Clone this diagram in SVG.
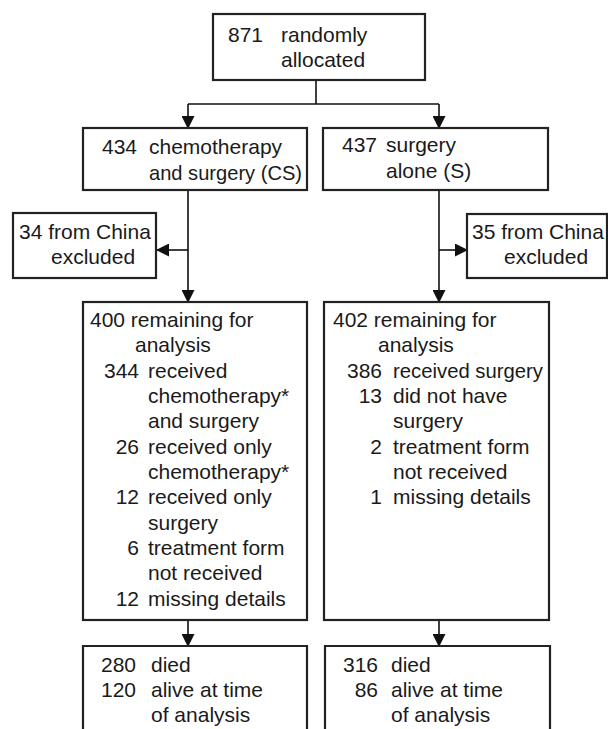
<svg xmlns="http://www.w3.org/2000/svg" width="608" height="729" viewBox="0 0 608 729">
<defs>
<marker id="ah" markerUnits="userSpaceOnUse" markerWidth="13" markerHeight="13" viewBox="0 0 13 13" refX="12" refY="6.5" orient="auto">
<path d="M0,0 L13,6.5 L0,13 Z" fill="#111"/>
</marker>
</defs>
<style>
.box{fill:#fff;stroke:#222;stroke-width:2.2}
.t{font-family:"Liberation Sans",Arial,sans-serif;font-size:21px;fill:#1a1a1a}
.n{text-anchor:end}
.c{fill:none;stroke:#111;stroke-width:1.6}
</style>
<rect width="608" height="729" fill="#fff"/>
<g id="connectors">
<line class="c" x1="316" y1="80" x2="316" y2="104"/>
<line class="c" x1="188" y1="104" x2="439" y2="104"/>
<line class="c" x1="188" y1="104" x2="188" y2="128" marker-end="url(#ah)"/>
<line class="c" x1="439" y1="104" x2="439" y2="128" marker-end="url(#ah)"/>
<line class="c" x1="188" y1="190" x2="188" y2="302" marker-end="url(#ah)"/>
<line class="c" x1="439" y1="190" x2="439" y2="302" marker-end="url(#ah)"/>
<line class="c" x1="188" y1="250" x2="157" y2="250" marker-end="url(#ah)"/>
<line class="c" x1="439" y1="250" x2="467" y2="250" marker-end="url(#ah)"/>
<line class="c" x1="188" y1="620" x2="188" y2="646" marker-end="url(#ah)"/>
<line class="c" x1="439" y1="620" x2="439" y2="646" marker-end="url(#ah)"/>
</g>
<g id="randomised">
<rect class="box" x="213" y="14" width="212" height="66"/>
<text class="t" x="228" y="42">871</text>
<text class="t" x="281" y="42">randomly</text>
<text class="t" x="281" y="67">allocated</text>
</g>
<g id="cs">
<rect class="box" x="83" y="128" width="224" height="62"/>
<text class="t" x="102" y="154">434</text>
<text class="t" x="149" y="154">chemotherapy</text>
<text class="t" x="149" y="180" textLength="153" lengthAdjust="spacingAndGlyphs">and surgery (CS)</text>
</g>
<g id="s">
<rect class="box" x="323" y="128" width="225" height="62"/>
<text class="t" x="342" y="152">437</text>
<text class="t" x="386" y="152">surgery</text>
<text class="t" x="386" y="178">alone (S)</text>
</g>
<g id="cs-excluded">
<rect class="box" x="13" y="213" width="143" height="65"/>
<text class="t" x="19" y="239">34 from China</text>
<text class="t" x="51" y="264">excluded</text>
</g>
<g id="s-excluded">
<rect class="box" x="467" y="214" width="140" height="64"/>
<text class="t" x="472" y="239">35 from China</text>
<text class="t" x="504" y="264">excluded</text>
</g>
<g id="cs-analysis">
<rect class="box" x="83" y="302" width="224" height="318"/>
<text class="t" x="90" y="327">400 remaining for</text>
<text class="t" x="135" y="352">analysis</text>
<text class="t n" x="139" y="378">344</text>
<text class="t" x="148" y="378">received</text>
<text class="t" x="148" y="403">chemotherapy*</text>
<text class="t" x="148" y="428">and surgery</text>
<text class="t n" x="139" y="454">26</text>
<text class="t" x="148" y="454">received only</text>
<text class="t" x="148" y="479">chemotherapy*</text>
<text class="t n" x="139" y="504">12</text>
<text class="t" x="148" y="504">received only</text>
<text class="t" x="148" y="530">surgery</text>
<text class="t n" x="139" y="555">6</text>
<text class="t" x="148" y="555">treatment form</text>
<text class="t" x="148" y="580">not received</text>
<text class="t n" x="139" y="606">12</text>
<text class="t" x="148" y="606">missing details</text>
</g>
<g id="s-analysis">
<rect class="box" x="324" y="302" width="225" height="318"/>
<text class="t" x="333" y="327">402 remaining for</text>
<text class="t" x="378" y="352">analysis</text>
<text class="t n" x="382" y="378">386</text>
<text class="t" x="393" y="378" textLength="150" lengthAdjust="spacingAndGlyphs">received surgery</text>
<text class="t n" x="382" y="403">13</text>
<text class="t" x="393" y="403">did not have</text>
<text class="t" x="393" y="428">surgery</text>
<text class="t n" x="382" y="454">2</text>
<text class="t" x="393" y="454">treatment form</text>
<text class="t" x="393" y="479">not received</text>
<text class="t n" x="382" y="504">1</text>
<text class="t" x="393" y="504">missing details</text>
</g>
<g id="cs-outcome">
<path class="box" d="M83,740 V646 H307 V740"/>
<text class="t n" x="136" y="672">280</text>
<text class="t" x="151" y="672">died</text>
<text class="t n" x="136" y="697">120</text>
<text class="t" x="151" y="697">alive at time</text>
<text class="t" x="151" y="722">of analysis</text>
</g>
<g id="s-outcome">
<path class="box" d="M325,740 V646 H550 V740"/>
<text class="t n" x="378" y="672">316</text>
<text class="t" x="391" y="672">died</text>
<text class="t n" x="378" y="697">86</text>
<text class="t" x="391" y="697">alive at time</text>
<text class="t" x="391" y="722">of analysis</text>
</g>
</svg>
